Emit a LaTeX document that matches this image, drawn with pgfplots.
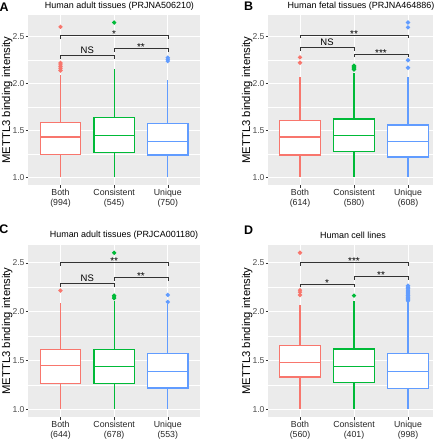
\documentclass[border=0pt]{standalone}
\usepackage{pgfplots}
\pgfplotsset{compat=1.18}
\usepgfplotslibrary{statistics}
\usepackage{fontspec}
\setmainfont{Liberation Sans}

\definecolor{ggred}{HTML}{F8766D}
\definecolor{gggreen}{HTML}{00BA38}
\definecolor{ggblue}{HTML}{619CFF}
\definecolor{panelbg}{HTML}{EBEBEB}
\definecolor{ticktext}{HTML}{4D4D4D}
\definecolor{tickmark}{HTML}{333333}

\tikzset{
  stars/.style={font=\fontsize{10}{10}\selectfont, anchor=base, yshift=-2.2bp, inner sep=0pt},
  nstext/.style={font=\fontsize{9.5}{10}\selectfont, anchor=base, yshift=2.3bp, inner sep=0pt},
}

\pgfplotsset{
  ggpanel/.style={
    scale only axis, anchor=north west,
    axis background/.style={fill=panelbg},
    axis x line*=bottom, axis y line*=left,
    axis line style={draw=none},
    xtick={1,2,3}, ytick={1,1.5,2,2.5}, minor ytick={1.25,1.75,2.25},
    grid=both,
    major grid style={white, line width=0.9bp},
    minor grid style={white, line width=0.45bp},
    tick align=outside,
    major tick length=2.6bp, minor tick length=0pt,
    every tick/.style={tickmark, line width=0.6bp},
    /pgf/number format/assume math mode=true,
    yticklabel style={font=\fontsize{8.6}{10}\selectfont, text=ticktext,
      /pgf/number format/fixed, /pgf/number format/fixed zerofill,
      /pgf/number format/precision=1, inner sep=1bp},
    xticklabel style={font=\fontsize{8.8}{10}\selectfont, text=black!85,
      align=center, inner sep=1.5bp},
    ylabel={METTL3 binding intensity},
    every axis y label/.style={at={(axis description cs:0,0.5)}, xshift=-21bp,
      rotate=90, anchor=center, font=\fontsize{11.3}{12}\selectfont},
    boxplot/draw direction=y,
    boxplot/box extend=0.75,
    boxplot/whisker extend=0,
  },
  ggbox/.style={#1, line width=1.3bp, fill=white, solid,
    mark=*, mark size=1.4bp, mark options={draw=none, fill=#1}},
  bracket/.style={black!80, line width=0.6bp, mark=none, forget plot},
}

\begin{document}
\begin{tikzpicture}
\useasboundingbox (0,0) rectangle (440bp,-439bp);

% ---------------- A ----------------
\begin{axis}[ggpanel, at={(28.3bp,-15bp)}, width=171.7bp, height=170bp,
  xmin=0.4, xmax=3.6, ymin=0.9175, ymax=2.7325,
  xticklabels={{Both\\(994)},{Consistent\\(545)},{Unique\\(750)}}]
\addplot[ggbox=ggred, boxplot prepared={draw position=1, lower whisker=1.0,
  lower quartile=1.241, median=1.429, upper quartile=1.585, upper whisker=2.092}]
  coordinates {(0,2.14) (0,2.16) (0,2.18) (0,2.20) (0,2.22) (0,2.606)};
\addplot[ggbox=gggreen, boxplot prepared={draw position=2, lower whisker=1.0,
  lower quartile=1.266, median=1.447, upper quartile=1.635, upper whisker=2.156}]
  coordinates {(0,2.652)};
\addplot[ggbox=ggblue, boxplot prepared={draw position=3, lower whisker=1.0,
  lower quartile=1.238, median=1.383, upper quartile=1.571, upper whisker=2.039}]
  coordinates {(0,2.241) (0,2.259) (0,2.277)};
\addplot[bracket] coordinates {(1,2.478) (1,2.514) (3,2.514) (3,2.478)};
\addplot[bracket] coordinates {(1,2.262) (1,2.298) (2,2.298) (2,2.262)};
\addplot[bracket] coordinates {(2,2.336) (2,2.372) (3,2.372) (3,2.336)};
\node[stars] at (axis cs:2,2.514) {*};
\node[nstext] at (axis cs:1.5,2.298) {NS};
\node[stars] at (axis cs:2.5,2.372) {**};
\end{axis}

% ---------------- B ----------------
\begin{axis}[ggpanel, at={(268.3bp,-15bp)}, width=164.7bp, height=170bp,
  xmin=0.413, xmax=3.463, ymin=0.9175, ymax=2.7325,
  xticklabels={{Both\\(614)},{Consistent\\(580)},{Unique\\(608)}}]
\addplot[ggbox=ggred, boxplot prepared={draw position=1, lower whisker=1.0,
  lower quartile=1.238, median=1.429, upper quartile=1.606, upper whisker=2.074}]
  coordinates {(0,2.223) (0,2.28)};
\addplot[ggbox=gggreen, boxplot prepared={draw position=2, lower whisker=1.0,
  lower quartile=1.273, median=1.443, upper quartile=1.621, upper whisker=2.11}]
  coordinates {(0,2.15) (0,2.16) (0,2.17) (0,2.18) (0,2.19)};
\addplot[ggbox=ggblue, boxplot prepared={draw position=3, lower whisker=1.0,
  lower quartile=1.216, median=1.383, upper quartile=1.557, upper whisker=2.07}]
  coordinates {(0,2.17) (0,2.25) (0,2.6) (0,2.652)};
\addplot[bracket] coordinates {(1,2.485) (1,2.521) (3,2.521) (3,2.485)};
\addplot[bracket] coordinates {(1,2.347) (1,2.383) (2,2.383) (2,2.347)};
\addplot[bracket] coordinates {(2,2.28) (2,2.316) (3,2.316) (3,2.28)};
\node[stars] at (axis cs:2,2.521) {**};
\node[nstext] at (axis cs:1.5,2.383) {NS};
\node[stars] at (axis cs:2.5,2.316) {***};
\end{axis}

% ---------------- C ----------------
\begin{axis}[ggpanel, at={(28.3bp,-245bp)}, width=171.7bp, height=172bp,
  xmin=0.4, xmax=3.6, ymin=0.92, ymax=2.683,
  xticklabels={{Both\\(644)},{Consistent\\(678)},{Unique\\(553)}}]
\addplot[ggbox=ggred, boxplot prepared={draw position=1, lower whisker=1.0,
  lower quartile=1.260, median=1.445, upper quartile=1.610, upper whisker=2.089}]
  coordinates {(0,2.216)};
\addplot[ggbox=gggreen, boxplot prepared={draw position=2, lower whisker=1.0,
  lower quartile=1.267, median=1.435, upper quartile=1.610, upper whisker=2.113}]
  coordinates {(0,2.137) (0,2.15) (0,2.164) (0,2.603)};
\addplot[ggbox=ggblue, boxplot prepared={draw position=3, lower whisker=1.0,
  lower quartile=1.216, median=1.387, upper quartile=1.568, upper whisker=2.079}]
  coordinates {(0,2.099) (0,2.171)};
\addplot[bracket] coordinates {(1,2.472) (1,2.507) (3,2.507) (3,2.472)};
\addplot[bracket] coordinates {(1,2.253) (1,2.288) (2,2.288) (2,2.253)};
\addplot[bracket] coordinates {(2,2.318) (2,2.353) (3,2.353) (3,2.318)};
\node[stars] at (axis cs:2,2.507) {**};
\node[nstext] at (axis cs:1.5,2.288) {NS};
\node[stars] at (axis cs:2.5,2.353) {**};
\end{axis}

% ---------------- D ----------------
\begin{axis}[ggpanel, at={(268.3bp,-245bp)}, width=164.7bp, height=172bp,
  xmin=0.413, xmax=3.463, ymin=0.92, ymax=2.683,
  xticklabels={{Both\\(560)},{Consistent\\(401)},{Unique\\(998)}}]
\addplot[ggbox=ggred, boxplot prepared={draw position=1, lower whisker=1.0,
  lower quartile=1.329, median=1.479, upper quartile=1.651, upper whisker=2.072}]
  coordinates {(0,2.17) (0,2.2) (0,2.22) (0,2.603)};
\addplot[ggbox=gggreen, boxplot prepared={draw position=2, lower whisker=1.0,
  lower quartile=1.274, median=1.438, upper quartile=1.616, upper whisker=2.113}]
  coordinates {(0,2.164)};
\addplot[ggbox=ggblue, boxplot prepared={draw position=3, lower whisker=1.0,
  lower quartile=1.212, median=1.387, upper quartile=1.568, upper whisker=2.095}]
  coordinates {(0,2.11) (0,2.12) (0,2.13) (0,2.14) (0,2.15) (0,2.165) (0,2.18)
               (0,2.19) (0,2.20) (0,2.21) (0,2.22) (0,2.235) (0,2.25) (0,2.265)};
\addplot[bracket] coordinates {(1,2.472) (1,2.507) (3,2.507) (3,2.472)};
\addplot[bracket] coordinates {(1,2.249) (1,2.284) (2,2.284) (2,2.249)};
\addplot[bracket] coordinates {(2,2.325) (2,2.36) (3,2.36) (3,2.325)};
\node[stars] at (axis cs:2,2.507) {***};
\node[stars] at (axis cs:1.5,2.284) {*};
\node[stars] at (axis cs:2.5,2.36) {**};
\end{axis}

% panel titles and tags
\begin{scope}[every node/.style={font=\fontsize{9}{10}\selectfont, anchor=center, inner sep=0pt}]
\node at (119.5bp,-6bp) {Human adult tissues (PRJNA506210)};
\node at (361bp,-6bp) {Human fetal tissues (PRJNA464886)};
\node at (124bp,-235bp) {Human adult tissues (PRJCA001180)};
\node at (353bp,-235bp) {Human cell lines};
\end{scope}
\begin{scope}[every node/.style={font=\bfseries\fontsize{12.5}{13}\selectfont, anchor=center, inner sep=0pt}]
\node at (4.2bp,-7.5bp) {A};
\node at (248.5bp,-6.5bp) {B};
\node at (3.8bp,-229bp) {C};
\node at (248.5bp,-230.5bp) {D};
\end{scope}
\end{tikzpicture}
\end{document}
